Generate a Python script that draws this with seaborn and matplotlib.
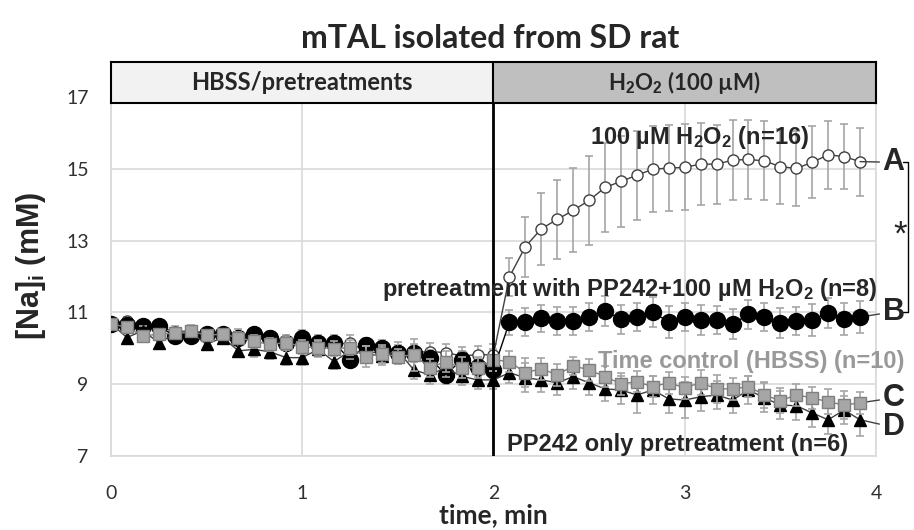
import numpy as np
import pandas as pd
import matplotlib
matplotlib.use("Agg")
import matplotlib.pyplot as plt
import seaborn as sns

# time points, seconds (sampled every 5 s)
time_s = [0, 5, 10, 15, 20, 25, 30, 35, 40, 45, 50, 55,
          60, 65, 70, 75, 80, 85, 90, 95, 100, 105, 110, 115,
          120, 125, 130, 135, 140, 145, 150, 155, 160, 165, 170, 175,
          180, 185, 190, 195, 200, 205, 210, 215, 220, 225, 230, 235]

# A: 100 uM H2O2 (n=16)
h2o2 = [10.69, 10.76, 10.65, 10.61, 10.46, 10.49, 10.39, 10.39, 10.35, 10.30, 10.26, 10.18,
        10.16, 10.14, 10.09, 10.16, 9.91, 9.86, 9.82, 9.88, 9.91, 9.88, 9.79, 9.82,
        9.82, 11.99, 12.83, 13.33, 13.59, 13.84, 14.12, 14.48, 14.65, 14.82, 14.99, 15.02,
        15.04, 15.13, 15.13, 15.24, 15.26, 15.22, 15.06, 15.01, 15.18, 15.39, 15.34, 15.20]
h2o2_err = [0.10, 0.12, 0.12, 0.12, 0.15, 0.15, 0.15, 0.15, 0.18, 0.18, 0.18, 0.20,
            0.20, 0.20, 0.20, 0.22, 0.22, 0.22, 0.25, 0.25, 0.25, 0.25, 0.25, 0.25,
            0.30, 0.53, 0.83, 1.00, 1.10, 1.17, 1.25, 1.23, 1.27, 1.24, 1.20, 1.20,
            1.20, 1.15, 1.10, 1.12, 1.10, 1.10, 1.05, 1.05, 1.00, 0.95, 0.90, 0.95]

# B: pretreatment with PP242 + 100 uM H2O2 (n=8)
pp_h2o2 = [10.69, 10.65, 10.63, 10.61, 10.35, 10.35, 10.39, 10.39, 10.30, 10.39, 10.30, 10.14,
           10.30, 10.16, 10.16, 9.68, 10.10, 10.02, 9.88, 9.88, 9.74, 9.26, 9.68, 9.49,
           9.40, 10.73, 10.73, 10.84, 10.76, 10.76, 10.87, 11.04, 10.81, 10.87, 11.01, 10.73,
           10.87, 10.79, 10.79, 10.67, 10.95, 10.87, 10.70, 10.76, 10.79, 10.98, 10.81, 10.87]
pp_h2o2_err = [0.10, 0.12, 0.12, 0.12, 0.15, 0.15, 0.15, 0.15, 0.15, 0.18, 0.18, 0.18,
               0.20, 0.20, 0.20, 0.20, 0.20, 0.22, 0.22, 0.22, 0.22, 0.25, 0.25, 0.25,
               0.25, 0.35, 0.40, 0.38, 0.40, 0.38, 0.40, 0.42, 0.40, 0.40, 0.42, 0.45,
               0.40, 0.42, 0.40, 0.42, 0.40, 0.40, 0.42, 0.40, 0.45, 0.42, 0.45, 0.45]

# C: time control (HBSS) (n=10)
control = [10.69, 10.58, 10.35, 10.39, 10.42, 10.47, 10.37, 10.39, 10.30, 10.19, 10.11, 10.16,
           10.04, 10.02, 9.99, 10.02, 9.77, 9.85, 9.77, 9.82, 9.46, 9.63, 9.46, 9.46,
           9.68, 9.63, 9.32, 9.43, 9.26, 9.51, 9.40, 9.21, 9.01, 9.07, 8.93, 9.04,
           8.90, 9.04, 8.87, 8.87, 8.93, 8.70, 8.54, 8.70, 8.62, 8.51, 8.42, 8.48]
control_err = [0.08, 0.10, 0.10, 0.12, 0.12, 0.12, 0.15, 0.15, 0.15, 0.18, 0.18, 0.18,
               0.20, 0.20, 0.20, 0.20, 0.30, 0.25, 0.20, 0.45, 0.25, 0.30, 0.30, 0.30,
               0.30, 0.30, 0.40, 0.30, 0.30, 0.25, 0.30, 0.30, 0.30, 0.30, 0.30, 0.30,
               0.30, 0.35, 0.40, 0.30, 0.30, 0.35, 0.35, 0.30, 0.30, 0.35, 0.40, 0.30]

# D: PP242 only pretreatment (n=6)
pp_only = [10.69, 10.30, 10.49, 10.16, 10.39, 10.44, 10.11, 10.30, 9.93, 9.97, 9.90, 9.74,
           9.74, 9.97, 9.63, 9.93, 9.84, 9.79, 9.93, 9.40, 9.26, 9.46, 9.22, 9.12,
           9.12, 9.32, 9.18, 9.12, 9.04, 9.21, 9.04, 8.87, 8.84, 8.70, 8.84, 8.59,
           8.56, 8.65, 8.70, 8.56, 8.84, 8.62, 8.42, 8.40, 8.20, 8.01, 8.28, 8.01]
pp_only_err = [0.08, 0.12, 0.12, 0.15, 0.15, 0.15, 0.15, 0.18, 0.18, 0.20, 0.20, 0.20,
               0.20, 0.22, 0.22, 0.22, 0.22, 0.25, 0.25, 0.25, 0.25, 0.25, 0.25, 0.25,
               0.25, 0.30, 0.40, 0.35, 0.35, 0.35, 0.35, 0.35, 0.40, 0.50, 0.40, 0.40,
               0.50, 0.40, 0.40, 0.35, 0.40, 0.40, 0.40, 0.40, 0.40, 0.40, 0.40, 0.45]

# where the right-hand letters sit (y, mM)
letters = ["A", "B", "C", "D"]
letter_y = [15.18, 11.02, 8.62, 7.80]

sns.set_style("white")
plt.rcParams["font.family"] = ["Liberation Sans", "DejaVu Sans"]
plt.rcParams["mathtext.fontset"] = "custom"
plt.rcParams["mathtext.rm"] = "Liberation Sans:bold"
plt.rcParams["mathtext.it"] = "Liberation Sans:bold"
plt.rcParams["mathtext.bf"] = "Liberation Sans:bold"

t = np.array(time_s) / 60.0
df = pd.DataFrame({"time": t, "A": h2o2, "B": pp_h2o2, "C": control, "D": pp_only})

fig = plt.figure(figsize=(9.14, 5.30), dpi=100)
ax = fig.add_axes([0.1214, 0.1396, 0.8370, 0.6774])

grid_c = "#d9d9d9"
err_c = "#a6a6a6"

series = [
    ("A", h2o2_err, dict(marker="o", markersize=8, markerfacecolor="white",
                         markeredgecolor="#404040", color="#404040"), 3),
    ("B", pp_h2o2_err, dict(marker="o", markersize=11.5, markerfacecolor="black",
                            markeredgecolor="black", color="black"), 4),
    ("D", pp_only_err, dict(marker="^", markersize=9, markerfacecolor="black",
                            markeredgecolor="black", color="#404040"), 5),
    ("C", control_err, dict(marker="s", markersize=8.5, markerfacecolor="#a6a6a6",
                            markeredgecolor="#7f7f7f", color="#7f7f7f"), 6),
]

for name, err, style, z in series:
    ax.errorbar(df["time"], df[name], yerr=err, fmt="none", ecolor=err_c,
                elinewidth=1.2, capsize=3, capthick=1.2, zorder=z - 0.5)
    sns.lineplot(data=df, x="time", y=name, ax=ax, linewidth=1.0,
                 markeredgewidth=1.0, zorder=z, **style)

ax.set_xlim(0, 4)
ax.set_ylim(7, 17)
ax.set_xticks([0, 1, 2, 3, 4])
ax.set_yticks([7, 9, 11, 13, 15, 17])
ax.grid(True, color=grid_c, linewidth=1.2)
ax.axvline(2, color="black", linewidth=2, zorder=7)
ax.spines["top"].set_visible(False)
for s in ["left", "bottom", "right"]:
    ax.spines[s].set_color(grid_c)
    ax.spines[s].set_linewidth(1.2)
ax.tick_params(length=0, labelsize=14, labelcolor="#303030")
ax.tick_params(axis="x", pad=21)
ax.tick_params(axis="y", pad=16)
for lab in ax.get_xticklabels() + ax.get_yticklabels():
    lab.set_fontfamily("Lato")

ax.set_xlabel("time, min", fontsize=19, fontweight="bold", family="Lato", va="center")
ax.xaxis.set_label_coords(0.5, -0.165)
ax.set_ylabel("[Na]$_\\mathrm{i}$ (mM)", fontsize=22, fontweight="bold", va="center")
ax.yaxis.set_label_coords(-0.104, 0.53)

# series labels
ax.text(3.08, 15.88, "100 µM H$_2$O$_2$ (n=16)", fontsize=17, fontweight="bold",
        ha="center", va="center", zorder=8)
ax.text(4.01, 11.64, "pretreatment with PP242+100 µM H$_2$O$_2$ (n=8)", fontsize=17,
        fontweight="bold", ha="right", va="center", zorder=8, clip_on=False)
ax.text(4.15, 9.63, "Time control (HBSS) (n=10)", fontsize=17, fontweight="bold",
        color="#999999", ha="right", va="center", zorder=8, clip_on=False)
ax.text(2.07, 7.31, "PP242 only pretreatment (n=6)", fontsize=17, fontweight="bold",
        ha="left", va="center", zorder=8)

# letters with leader lines from the last point of each series
for name, lab, ly in zip(["A", "B", "C", "D"], letters, letter_y):
    ax.annotate(lab, xy=(t[-1], df[name].iloc[-1]), xytext=(4.035, ly),
                textcoords="data", fontsize=22, fontweight="bold",
                ha="left", va="center", annotation_clip=False,
                arrowprops=dict(arrowstyle="-", color="#404040", lw=1,
                                shrinkA=0, shrinkB=0))

# bracket A-B with significance star
bx = 4.17
ax.plot([bx - 0.03, bx, bx, bx - 0.03], [letter_y[0], letter_y[0], letter_y[1], letter_y[1]],
        color="black", lw=1, clip_on=False)
ax.text(4.125, 13.15, "*", fontsize=25, ha="center", va="center")

# header boxes
hax = fig.add_axes([0.1214, 0.8057, 0.8370, 0.0774])
hax.set_xlim(0, 4)
hax.set_ylim(0, 1)
hax.axvspan(0, 2, color="#f2f2f2")
hax.axvspan(2, 4, color="#bfbfbf")
hax.axvline(2, color="black", linewidth=1.5)
hax.set_xticks([])
hax.set_yticks([])
for s in hax.spines.values():
    s.set_color("black")
    s.set_linewidth(1.5)
    s.set_visible(True)
hax.text(1, 0.5, "HBSS/pretreatments", fontsize=17, fontweight="bold", family="Lato",
         ha="center", va="center")
hax.text(3, 0.5, "H$_2$O$_2$ (100 µM)", fontsize=16, fontweight="bold", family="Lato",
         ha="center", va="center")

fig.text(490 / 914, 1 - 38 / 530, "mTAL isolated from SD rat", fontsize=23,
         fontweight="bold", family="Lato", ha="center", va="center")

fig.savefig("out.png", dpi=100)
